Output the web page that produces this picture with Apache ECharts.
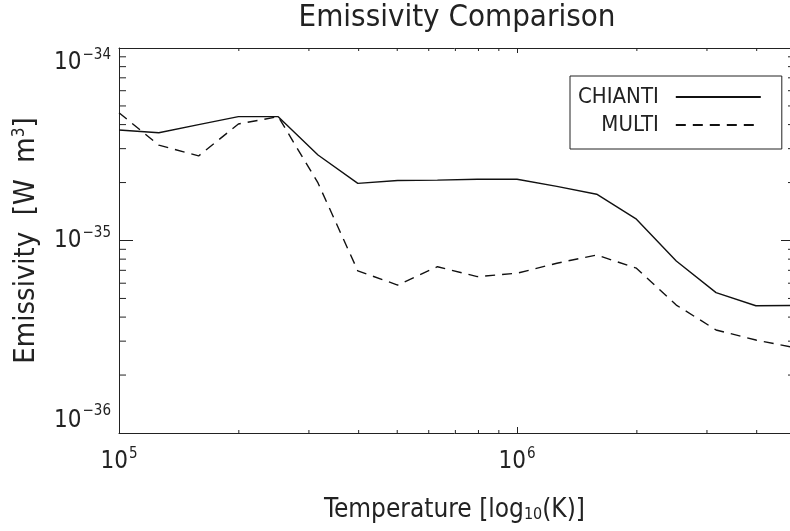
<!DOCTYPE html>
<html><head><meta charset="utf-8">
<script src="https://cdn.jsdelivr.net/npm/echarts@6/dist/echarts.min.js"></script>
<style>html,body{margin:0;padding:0;background:#fff}#c{width:790px;height:531px}</style>
</head><body><div id="c"></div>
<script>
// Temperatures (K)
var temperature = [1.000e5, 1.259e5, 1.585e5, 1.995e5, 2.512e5, 3.162e5, 3.981e5, 5.012e5, 6.310e5, 7.943e5,
                   1.000e6, 1.259e6, 1.585e6, 1.995e6, 2.512e6, 3.162e6, 3.981e6, 5.012e6];
// Emissivity, in units of 1e-36 W m^3 (ECharts rounds to 20 decimals, so raw 1e-35 values would collapse)
var Y_UNIT_EXP = -36;
var chianti = [37.5, 36.3, 40.0, 44.0, 44.0, 27.8, 19.8, 20.5, 20.6, 20.8,
               20.8, 19.1, 17.4, 12.9, 7.83, 5.36, 4.58, 4.60];
var multi   = [46.1, 31.3, 27.5, 40.3, 44.0, 19.9, 6.95, 5.87, 7.31, 6.49,
               6.76, 7.62, 8.41, 7.18, 4.62, 3.43, 3.04, 2.77];
var seriesNames = ['CHIANTI', 'MULTI'];
var xMin = 1e5, xMax = 4.85e6, yMin = 1, yMax = 100;
var xMinorTicks = [2e5, 3e5, 4e5, 5e5, 6e5, 7e5, 8e5, 9e5, 2e6, 3e6, 4e6];
var yMinorTicks = [2, 3, 4, 5, 6, 7, 8, 9, 20, 30, 40, 50, 60, 70, 80, 90];
var titleText = 'Emissivity Comparison';

var FONT = '"DejaVu Sans Condensed", "Liberation Sans", sans-serif';
var TXT = '#222';
function pow10Label(shift, lowValue) {
  return function (v) {
    var e = Math.log10(v);
    var r = Math.round(e);
    if (Math.abs(e - r) > 1e-6) return '';
    var base = (lowValue !== undefined && v === lowValue) ? 'bm' : 'b';
    return '{' + base + '|10}{s|' + String(r + shift).replace('-', '\u2212') + '}';
  };
}
var richLbl = {
  b: {fontSize: 24, fontFamily: FONT, color: TXT},
  bm: {fontSize: 24, fontFamily: FONT, color: TXT, lineHeight: 20, verticalAlign: 'bottom'},
  s: {fontSize: 15, fontFamily: FONT, color: TXT, padding: [0, 0, 14, 1]}
};
var axisLineStyle = {lineStyle: {color: '#222', width: 1}};

function mkLine(x1, y1, x2, y2) {
  return {type: 'line', shape: {x1: x1, y1: y1, x2: x2, y2: y2}, style: {stroke: '#222', lineWidth: 1}};
}

var chart = echarts.init(document.getElementById('c'), null, {renderer: 'canvas'});
chart.setOption({
  animation: false,
  backgroundColor: '#fff',
  title: {
    text: titleText, left: 457, textAlign: 'center', top: 2, padding: 0,
    textStyle: {fontSize: 31, fontWeight: 'normal', fontFamily: FONT, color: TXT}
  },
  grid: {left: 119, top: 48, right: 0, bottom: 98, containLabel: false, outerBoundsMode: 'none'},
  legend: {
    data: seriesNames, orient: 'vertical', left: 570, top: 76, align: 'right',
    itemWidth: 85, itemHeight: 14, itemGap: 6,
    padding: [10, 20, 13, 8], borderColor: '#222', borderWidth: 1,
    itemStyle: {opacity: 0, borderWidth: 0},
    textStyle: {fontSize: 22, fontFamily: FONT, color: TXT, padding: [0, 12, 0, 0]}
  },
  xAxis: [{
    type: 'log', logBase: 10, min: xMin, max: xMax, position: 'bottom',
    axisLine: axisLineStyle, splitLine: {show: false},
    axisTick: {inside: true, length: 6, lineStyle: {color: '#222'}},
    axisLabel: {formatter: pow10Label(0), rich: richLbl, margin: 14, showMaxLabel: false},
    name: 'Temperature [log{sub|10}(K)]', nameLocation: 'middle', nameGap: 64, nameMoveOverlap: false,
    nameTextStyle: {fontSize: 26, fontFamily: FONT, color: TXT,
      rich: {sub: {fontSize: 16, fontFamily: FONT, color: TXT, padding: [10, 0, 0, 0]}}}
  }, {
    type: 'log', logBase: 10, min: xMin, max: xMax, position: 'top',
    axisLine: axisLineStyle, splitLine: {show: false},
    axisTick: {inside: true, length: 5, lineStyle: {color: '#222'}},
    axisLabel: {show: false}
  }],
  yAxis: [{
    type: 'log', logBase: 10, min: yMin, max: yMax, position: 'left',
    axisLine: axisLineStyle, splitLine: {show: false},
    axisTick: {inside: true, length: 14, lineStyle: {color: '#222'}},
    axisLabel: {formatter: pow10Label(Y_UNIT_EXP, yMin), rich: richLbl, margin: 8,
      verticalAlignMinLabel: 'bottom', verticalAlignMaxLabel: 'top'},
    name: 'Emissivity  [W  m{sup|3}]', nameLocation: 'middle', nameGap: 78, nameRotate: 90, nameMoveOverlap: false,
    nameTextStyle: {fontSize: 29, fontFamily: FONT, color: TXT,
      rich: {sup: {fontSize: 17, fontFamily: FONT, color: TXT, padding: [0, 0, 13, 0]}}}
  }, {
    type: 'log', logBase: 10, min: yMin, max: yMax, position: 'right',
    axisLine: {show: false}, splitLine: {show: false},
    axisTick: {inside: true, length: 9, lineStyle: {color: '#222'}},
    axisLabel: {show: false}
  }],
  series: [{
    name: seriesNames[0], type: 'line', symbol: 'none', showSymbol: false,
    data: temperature.map(function (t, i) { return [t, chianti[i]]; }),
    lineStyle: {color: '#111', width: 1.4, type: 'solid'}, itemStyle: {color: '#111'}
  }, {
    name: seriesNames[1], type: 'line', symbol: 'none', showSymbol: false,
    data: temperature.map(function (t, i) { return [t, multi[i]]; }),
    lineStyle: {color: '#111', width: 1.4, type: [10, 7]}, itemStyle: {color: '#111'}
  }, {
    type: 'custom', silent: true, clip: false,
    data: xMinorTicks.map(function (v) { return [v, yMin]; }),
    renderItem: function (params, api) {
      var cs = params.coordSys;
      var x = api.coord([api.value(0), yMin])[0];
      var yb = cs.y + cs.height, yt = cs.y;
      return {type: 'group', children: [mkLine(x, yb, x, yb - 3), mkLine(x, yt, x, yt + 3)]};
    }
  }, {
    type: 'custom', silent: true, clip: false,
    data: yMinorTicks.map(function (v) { return [xMin, v]; }),
    renderItem: function (params, api) {
      var cs = params.coordSys;
      var y = api.coord([xMin, api.value(1)])[1];
      var xl = cs.x, xr = cs.x + cs.width;
      return {type: 'group', children: [mkLine(xl, y, xl + 7, y), mkLine(xr, y, xr - 2, y)]};
    }
  }]
});
</script></body></html>
